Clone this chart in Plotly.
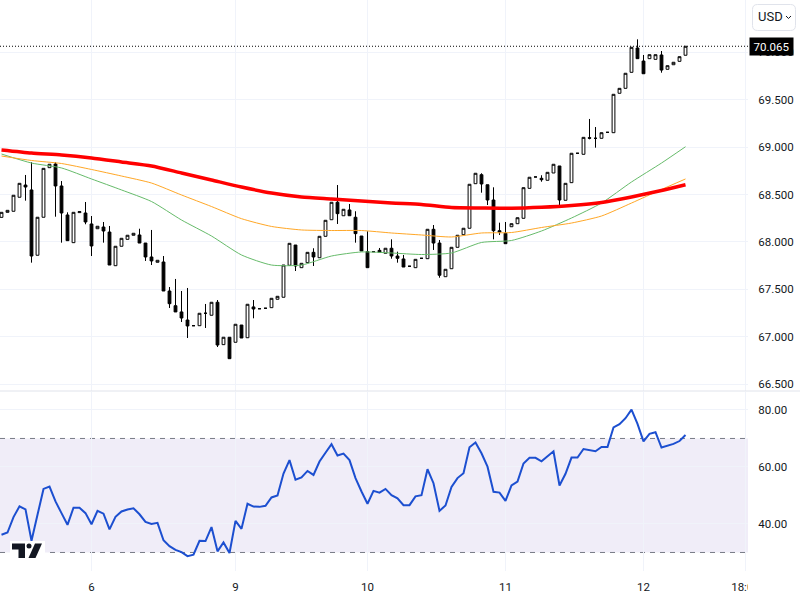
import plotly.graph_objects as go
from plotly.subplots import make_subplots

# hourly bars, x is the bar number (sessions have no gaps on this axis)
opens = [68.26, 68.313, 68.324, 68.472, 68.601, 68.549, 67.860, 68.261, 68.784, 68.823,
         68.591, 68.285, 67.993, 68.31, 68.306, 68.190, 68.140, 68.158, 68.105, 67.750,
         67.955, 68.028, 68.071, 68.074, 67.989, 67.842, 67.786, 67.789, 67.483, 67.328,
         67.262, 67.177, 67.117, 67.117, 67.248, 67.227, 67.364, 66.917, 66.995, 66.942,
         67.124, 66.990, 67.315, 67.296, 67.301, 67.307, 67.396, 67.417, 67.754, 67.968,
         67.729, 67.782, 67.891, 67.834, 68.060, 68.235, 68.419, 68.277, 68.338, 68.261,
         68.063, 67.898, 67.898, 67.912, 67.881, 67.934, 67.852, 67.821, 67.744, 67.729,
         67.828, 67.824, 68.134, 67.989, 67.634, 67.718, 67.944, 68.077, 68.145, 68.615,
         68.710, 68.604, 68.443, 68.119, 68.092, 68.161, 68.193, 68.250, 68.566, 68.686,
         68.672, 68.651, 68.728, 68.802, 68.440, 68.626, 68.936, 68.925, 69.100, 69.094,
         69.094, 69.157, 69.153, 69.569, 69.621, 69.790, 70.047, 69.909, 69.934, 69.927,
         69.973, 69.822, 69.870, 69.906, 69.970]
highs = [68.313, 68.334, 68.493, 68.619, 68.707, 68.841, 68.261, 68.777, 68.820, 68.841,
         68.643, 68.313, 68.313, 68.32, 68.422, 68.274, 68.166, 68.211, 68.169, 67.955,
         68.039, 68.071, 68.092, 68.140, 67.989, 68.127, 67.807, 67.852, 67.525, 67.610,
         67.483, 67.515, 67.117, 67.248, 67.346, 67.364, 67.388, 66.995, 66.995, 67.132,
         67.124, 67.343, 67.388, 67.296, 67.301, 67.406, 67.427, 67.757, 67.986, 67.968,
         67.775, 67.891, 67.934, 68.060, 68.229, 68.419, 68.601, 68.345, 68.401, 68.324,
         68.063, 68.113, 67.898, 67.937, 67.934, 68.028, 67.898, 67.863, 67.744, 67.817,
         67.828, 68.134, 68.179, 68.021, 67.712, 67.944, 68.071, 68.145, 68.609, 68.725,
         68.725, 68.604, 68.577, 68.204, 68.211, 68.193, 68.256, 68.573, 68.683, 68.686,
         68.704, 68.735, 68.820, 68.802, 68.619, 68.936, 68.936, 69.104, 69.298, 69.213,
         69.153, 69.157, 69.558, 69.621, 69.780, 70.054, 70.138, 69.973, 69.976, 69.976,
         70.015, 69.860, 69.896, 69.955, 70.065]
lows = [68.26, 68.313, 68.324, 68.472, 68.436, 67.782, 67.860, 68.261, 68.784, 68.267,
        67.993, 68.011, 67.993, 68.31, 68.187, 67.852, 68.140, 67.993, 67.757, 67.750,
        67.955, 68.028, 68.071, 67.989, 67.800, 67.757, 67.786, 67.483, 67.304, 67.262,
        67.156, 66.987, 67.117, 67.117, 67.093, 67.227, 66.892, 66.917, 66.769, 66.942,
        66.987, 66.990, 67.195, 67.296, 67.301, 67.307, 67.396, 67.417, 67.754, 67.694,
        67.729, 67.782, 67.747, 67.834, 68.060, 68.235, 68.190, 68.277, 68.277, 67.993,
        67.905, 67.729, 67.898, 67.891, 67.881, 67.824, 67.782, 67.736, 67.744, 67.729,
        67.828, 67.824, 67.916, 67.623, 67.634, 67.718, 67.944, 68.077, 68.145, 68.615,
        68.520, 68.390, 68.028, 68.074, 67.982, 68.161, 68.193, 68.250, 68.566, 68.686,
        68.636, 68.651, 68.728, 68.383, 68.440, 68.626, 68.936, 68.925, 69.083, 68.995,
        69.094, 69.157, 69.153, 69.569, 69.621, 69.790, 69.934, 69.775, 69.934, 69.927,
        69.786, 69.822, 69.870, 69.906, 69.970]
closes = [68.313, 68.334, 68.493, 68.619, 68.580, 67.852, 68.261, 68.777, 68.820, 68.591,
          68.306, 68.014, 68.313, 68.32, 68.211, 67.958, 68.166, 68.116, 67.757, 67.955,
          68.039, 68.071, 68.092, 67.989, 67.842, 67.800, 67.807, 67.483, 67.349, 67.262,
          67.198, 67.114, 67.117, 67.248, 67.248, 67.364, 66.913, 66.995, 66.769, 67.132,
          66.987, 67.343, 67.293, 67.296, 67.301, 67.406, 67.427, 67.757, 67.986, 67.747,
          67.775, 67.891, 67.842, 68.060, 68.229, 68.419, 68.299, 68.345, 68.277, 68.088,
          67.905, 67.729, 67.898, 67.891, 67.934, 67.852, 67.828, 67.736, 67.744, 67.817,
          67.828, 68.134, 67.989, 67.649, 67.712, 67.944, 68.071, 68.145, 68.609, 68.725,
          68.612, 68.443, 68.119, 68.105, 67.982, 68.193, 68.256, 68.573, 68.683, 68.686,
          68.657, 68.735, 68.820, 68.443, 68.619, 68.936, 68.936, 69.104, 69.095, 69.094,
          69.153, 69.157, 69.558, 69.621, 69.780, 70.054, 69.934, 69.775, 69.976, 69.976,
          69.814, 69.860, 69.896, 69.955, 70.065]

# moving averages, read every 5 bars
ma_bars = [0, 5, 10, 15, 20, 25, 30, 35, 40, 45, 50, 55, 60, 65, 70, 75, 80, 85, 90, 95, 100, 105, 110, 114]
ma_red = [68.971, 68.939, 68.918, 68.886, 68.844, 68.802, 68.728, 68.654, 68.580, 68.517, 68.475, 68.454,
          68.433, 68.411, 68.396, 68.364, 68.359, 68.356, 68.366, 68.385, 68.417, 68.475, 68.543, 68.604]
ma_orange = [68.907, 68.860, 68.828, 68.765, 68.696, 68.622, 68.496, 68.374, 68.246, 68.164, 68.127, 68.121,
             68.121, 68.095, 68.074, 68.053, 68.095, 68.100, 68.153, 68.200, 68.274, 68.411, 68.554, 68.665]
ma_green = [68.928, 68.833, 68.781, 68.665, 68.549, 68.427, 68.232, 68.063, 67.863, 67.757, 67.757, 67.852,
            67.895, 67.884, 67.868, 67.884, 67.995, 68.016, 68.116, 68.253, 68.411, 68.633, 68.833, 69.005]

rsi = [36.2, 37.0, 42.4, 46.2, 45.1, 34.1, 43.2, 52.3, 53.1, 47.9,
       43.8, 39.7, 45.7, 45.7, 43.8, 39.9, 44.6, 43.6, 38.1, 42.5,
       44.4, 45.1, 45.5, 43.4, 40.7, 40.0, 40.4, 34.3, 32.2, 30.9,
       30.1, 28.7, 29.2, 34.1, 34.0, 38.9, 30.4, 33.5, 29.8, 41.1,
       38.3, 47.1, 46.1, 46.0, 46.4, 49.3, 50.0, 57.7, 62.4, 55.5,
       56.3, 58.6, 57.2, 61.9, 65.0, 68.0, 64.0, 64.7, 62.4, 56.1,
       51.4, 47.1, 51.6, 51.0, 52.3, 50.1, 49.0, 46.6, 46.6, 49.7,
       50.1, 59.2, 54.3, 44.6, 46.5, 53.0, 56.1, 57.8, 66.9, 68.6,
       64.8, 60.1, 51.3, 51.0, 48.1, 53.5, 54.9, 61.2, 63.2, 63.2,
       62.0, 63.6, 65.5, 53.5, 57.6, 63.3, 63.3, 66.3, 66.0, 65.5,
       67.0, 67.0, 73.9, 75.0, 77.1, 80.1, 75.1, 69.0, 71.6, 72.2,
       66.8, 67.5, 68.1, 69.1, 71.2]

bars = list(range(len(closes)))

date_ticks = [15, 39, 61, 84, 107, 124]
date_labels = ["6", "9", "10", "11", "12", "18:00"]
price_ticks = [66.5, 67.0, 67.5, 68.0, 68.5, 69.0, 69.5, 70.0]
rsi_ticks = [40, 60, 80]

TEXT = "#131722"
GRID = "#F0F3FA"
W, H = 800, 600
PLOT_R = 748
FONT = "Roboto"


def px(x):
    return x / PLOT_R


def py(y):
    return 1 - y / H


def poly(points):
    return "M " + " L ".join(f"{px(x):.5f},{py(y):.5f}" for x, y in points) + " Z"


fig = make_subplots(rows=2, cols=1, shared_xaxes=True, vertical_spacing=0)

fig.add_trace(go.Candlestick(
    x=bars, open=opens, high=highs, low=lows, close=closes,
    whiskerwidth=0,
    increasing=dict(line=dict(color="black", width=1), fillcolor="white"),
    decreasing=dict(line=dict(color="black", width=1), fillcolor="black"),
    showlegend=False,
), row=1, col=1)
ma_lines = [(ma_green, "#66BB6A", 1), (ma_orange, "#FFA726", 1), (ma_red, "#FF0000", 3.5)]
for values, color, width in ma_lines:
    fig.add_trace(go.Scatter(x=ma_bars, y=values, mode="lines", showlegend=False,
                             line=dict(color=color, width=width, shape="spline", smoothing=0.6)), row=1, col=1)
fig.add_trace(go.Scatter(x=bars, y=rsi, mode="lines", line=dict(color="#1C4FD0", width=2), showlegend=False), row=2, col=1)

fig.update_layout(
    width=W, height=H,
    margin=dict(l=0, r=W - PLOT_R, t=0, b=0),
    paper_bgcolor="white", plot_bgcolor="white",
    font=dict(family=FONT, size=11.5, color=TEXT),
    boxgap=1 / 3,
    hovermode=False,
)

x_range = [-0.25, 124.41667]
fig.update_xaxes(range=x_range, tickvals=date_ticks, ticktext=date_labels, showgrid=True, gridcolor=GRID,
                 gridwidth=1, zeroline=False, showline=False, rangeslider_visible=False)
fig.update_xaxes(showticklabels=False, ticks="", row=1, col=1)
fig.update_xaxes(showticklabels=True, ticks="outside", ticklen=5, tickcolor="rgba(0,0,0,0)", row=2, col=1)

fig.update_yaxes(side="right", showgrid=True, gridcolor=GRID, gridwidth=1, zeroline=False, showline=False,
                 ticks="outside", ticklen=7, tickcolor="rgba(0,0,0,0)")
fig.update_yaxes(domain=[py(391), 1], range=[66.428, 70.553], tickvals=price_ticks, tickformat=".3f", row=1, col=1)
fig.update_yaxes(domain=[py(571), py(392)], range=[23.5, 86.3], tickvals=rsi_ticks, tickformat=".2f", row=2, col=1)

# RSI band and its dashed limits
fig.add_shape(type="rect", xref="paper", yref="y2", x0=0, x1=1, y0=30, y1=70,
              fillcolor="#F0EDF8", line_width=0, layer="below")
for level in (30, 70):
    fig.add_shape(type="line", xref="paper", yref="y2", x0=0, x1=1, y0=level, y1=level,
                  line=dict(color="#787B86", width=1, dash="5px,5px"), layer="below")

# last price line
fig.add_shape(type="line", xref="paper", yref="y", x0=0, x1=1, y0=closes[-1], y1=closes[-1],
              line=dict(color="black", width=1, dash="1px,2px"))

# pane divider
fig.add_shape(type="line", xref="paper", yref="paper", x0=0, x1=px(W), y0=py(391), y1=py(391),
              line=dict(color="#E0E3EB", width=1))

# time labels are cut off at the edge of the plot
fig.add_shape(type="rect", xref="paper", yref="paper", x0=px(PLOT_R), x1=px(W), y0=py(H), y1=py(574),
              fillcolor="white", line_width=0)

# currency button
r = 5
x0, x1, y0, y1 = 752.5, 795.5, 4.5, 30.5
button = (f"M {px(x0 + r):.5f},{py(y0):.5f} L {px(x1 - r):.5f},{py(y0):.5f} "
          f"Q {px(x1):.5f},{py(y0):.5f} {px(x1):.5f},{py(y0 + r):.5f} L {px(x1):.5f},{py(y1 - r):.5f} "
          f"Q {px(x1):.5f},{py(y1):.5f} {px(x1 - r):.5f},{py(y1):.5f} L {px(x0 + r):.5f},{py(y1):.5f} "
          f"Q {px(x0):.5f},{py(y1):.5f} {px(x0):.5f},{py(y1 - r):.5f} L {px(x0):.5f},{py(y0 + r):.5f} "
          f"Q {px(x0):.5f},{py(y0):.5f} {px(x0 + r):.5f},{py(y0):.5f} Z")
fig.add_shape(type="path", xref="paper", yref="paper", path=button, fillcolor="white",
              line=dict(color="#E0E3EB", width=1))
chevron = f"M {px(786):.5f},{py(16):.5f} L {px(788.5):.5f},{py(18.5):.5f} L {px(791):.5f},{py(16):.5f}"
fig.add_shape(type="path", xref="paper", yref="paper", path=chevron, line=dict(color=TEXT, width=1))
fig.add_annotation(xref="paper", yref="paper", x=px(756), y=py(17), xanchor="left", yanchor="middle",
                   text="USD", showarrow=False, font=dict(family=FONT, size=13, color=TEXT))

# last price label
fig.add_annotation(xref="paper", yref="y", x=px(749), y=closes[-1], xanchor="left", yanchor="middle",
                   text="70.065", showarrow=False, bgcolor="black", width=43, height=17, borderpad=0,
                   font=dict(family=FONT, size=11.5, color="white"))

# logo
fig.add_shape(type="rect", xref="paper", yref="paper", x0=px(10), x1=px(45), y0=py(560), y1=py(541),
              fillcolor="white", line_width=0)
logo_parts = [
    [(12, 543.5), (25, 543.5), (25, 558), (18.5, 558), (18.5, 549.5), (12, 549.5)],
    [(35, 543.5), (42, 543.5), (35.5, 558), (28.5, 558)],
]
for part in logo_parts:
    fig.add_shape(type="path", xref="paper", yref="paper", path=poly(part), fillcolor=TEXT, line_width=0)
fig.add_shape(type="circle", xref="paper", yref="paper", x0=px(26.5), x1=px(31.5), y0=py(548.5), y1=py(543.5),
              fillcolor=TEXT, line_width=0)

fig.write_html("out.html", post_script="document.body.style.margin='0';", config={"displayModeBar": False})
